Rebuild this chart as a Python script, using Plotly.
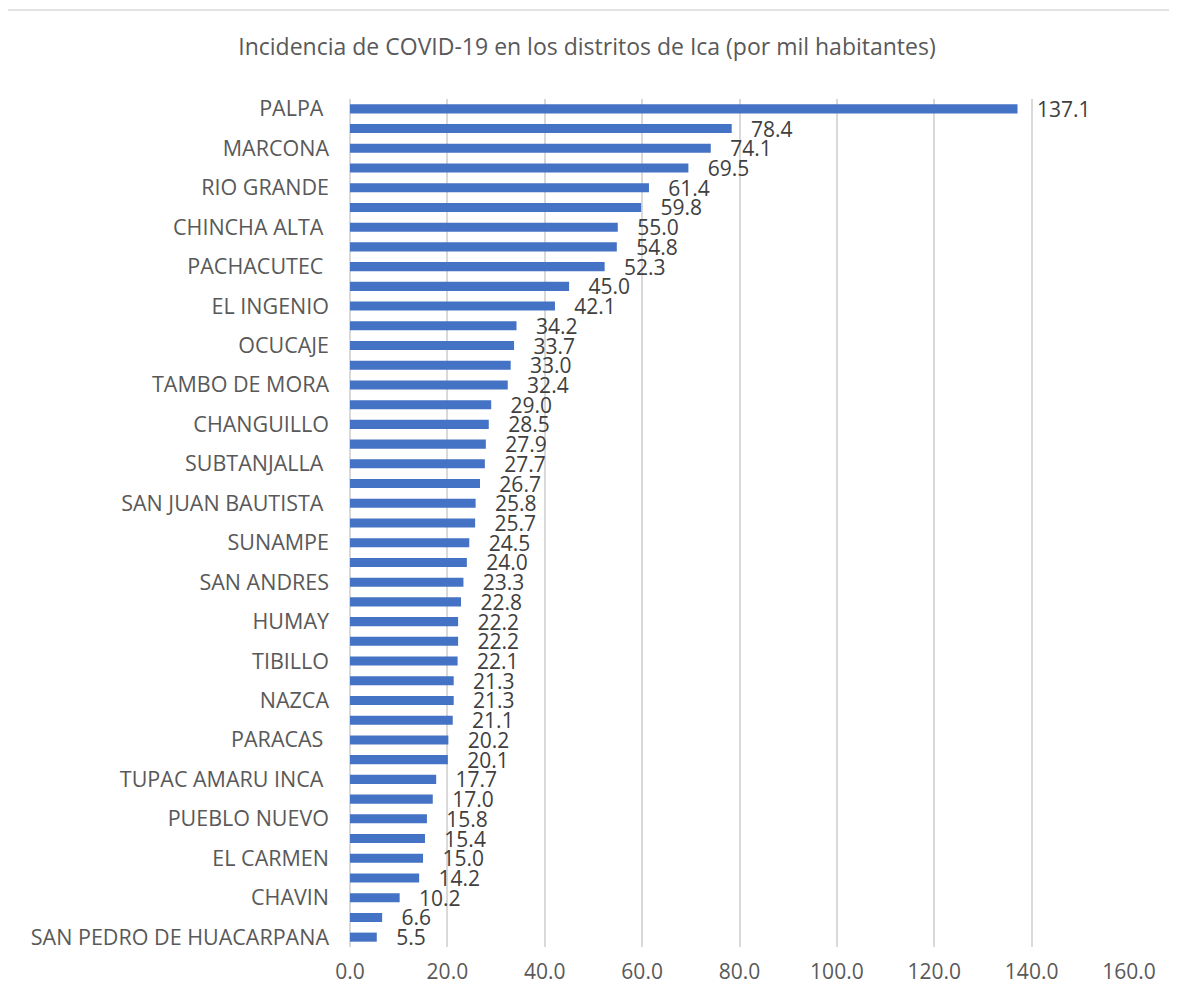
import plotly.graph_objects as go

# Districts in chart order (top to bottom). Only every other label is visible in the
# reference; the hidden ones could not be read, so they carry placeholder names.
districts = [
    "PALPA", "(sin etiqueta 1)", "MARCONA", "(sin etiqueta 2)", "RIO GRANDE",
    "(sin etiqueta 3)", "CHINCHA ALTA", "(sin etiqueta 4)", "PACHACUTEC", "(sin etiqueta 5)",
    "EL INGENIO", "(sin etiqueta 6)", "OCUCAJE", "(sin etiqueta 7)", "TAMBO DE MORA",
    "(sin etiqueta 8)", "CHANGUILLO", "(sin etiqueta 9)", "SUBTANJALLA", "(sin etiqueta 10)",
    "SAN JUAN BAUTISTA", "(sin etiqueta 11)", "SUNAMPE", "(sin etiqueta 12)", "SAN ANDRES",
    "(sin etiqueta 13)", "HUMAY", "(sin etiqueta 14)", "TIBILLO", "(sin etiqueta 15)",
    "NAZCA", "(sin etiqueta 16)", "PARACAS", "(sin etiqueta 17)", "TUPAC AMARU INCA",
    "(sin etiqueta 18)", "PUEBLO NUEVO", "(sin etiqueta 19)", "EL CARMEN", "(sin etiqueta 20)",
    "CHAVIN", "(sin etiqueta 21)", "SAN PEDRO DE HUACARPANA",
]
incidence = [
    137.1, 78.4, 74.1, 69.5, 61.4, 59.8, 55.0, 54.8, 52.3, 45.0,
    42.1, 34.2, 33.7, 33.0, 32.4, 29.0, 28.5, 27.9, 27.7, 26.7,
    25.8, 25.7, 24.5, 24.0, 23.3, 22.8, 22.2, 22.2, 22.1, 21.3,
    21.3, 21.1, 20.2, 20.1, 17.7, 17.0, 15.8, 15.4, 15.0, 14.2,
    10.2, 6.6, 5.5,
]
# labels that carry a trailing space in the source workbook
trailing_space = {"PALPA", "CHINCHA ALTA", "PACHACUTEC", "SUBTANJALLA",
                  "SAN JUAN BAUTISTA", "PARACAS", "TUPAC AMARU INCA"}
shown_labels = [d for i, d in enumerate(districts) if i % 2 == 0]
x_ticks = [0, 20, 40, 60, 80, 100, 120, 140, 160]

FONT = "Open Sans, Noto Sans, sans-serif"
NBSP = "\u00a0"

fig = go.Figure(go.Bar(
    x=incidence,
    y=districts,
    orientation="h",
    marker=dict(color="#4472C4", line=dict(width=0)),
    text=[NBSP * 3 + f"{v:.1f}" for v in incidence],
    textposition="outside",
    constraintext="none",
    cliponaxis=False,
    textfont=dict(size=21, color="#404040", family=FONT),
))

fig.update_layout(
    width=1169, height=997,
    paper_bgcolor="white", plot_bgcolor="white",
    margin=dict(l=342, r=48, t=91, b=58),
    bargap=0.54,
    showlegend=False,
    title=dict(
        text="Incidencia de COVID-19 en los distritos de Ica (por mil habitantes)",
        x=(587 - 8) / 1169, xref="container", xanchor="center",
        y=1 - 39 / 997, yref="container", yanchor="middle",
        font=dict(size=23, color="#595959", family=FONT),
    ),
    font=dict(family=FONT, color="#595959"),
    xaxis=dict(
        range=[0, 160], tickvals=x_ticks,
        ticktext=[f"{t:.1f}" for t in x_ticks],
        showgrid=True, gridcolor="#D9D9D9", gridwidth=1.5,
        zeroline=True, zerolinecolor="#D9D9D9", zerolinewidth=1.5,
        showline=False, ticks="",
        tickfont=dict(size=21, color="#595959"),
        ticklabelstandoff=10,
    ),
    yaxis=dict(
        categoryorder="array", categoryarray=districts,
        autorange="reversed",
        tickmode="array", tickvals=shown_labels,
        ticktext=[d + NBSP if d in trailing_space else d for d in shown_labels],
        showgrid=False, showline=False, ticks="",
        tickfont=dict(size=21.5, color="#595959"),
        ticklabelstandoff=20,
    ),
    shapes=[dict(
        type="rect", xref="paper", yref="paper",
        x0=(6 - 350) / 779, x1=(1200 - 350) / 779,
        y0=(947 - 1030) / 848, y1=(947 - 10) / 848,
        line=dict(color="#D9D9D9", width=1.5), fillcolor="rgba(0,0,0,0)",
        layer="below",
    )],
)

fig.write_html("out.html")
